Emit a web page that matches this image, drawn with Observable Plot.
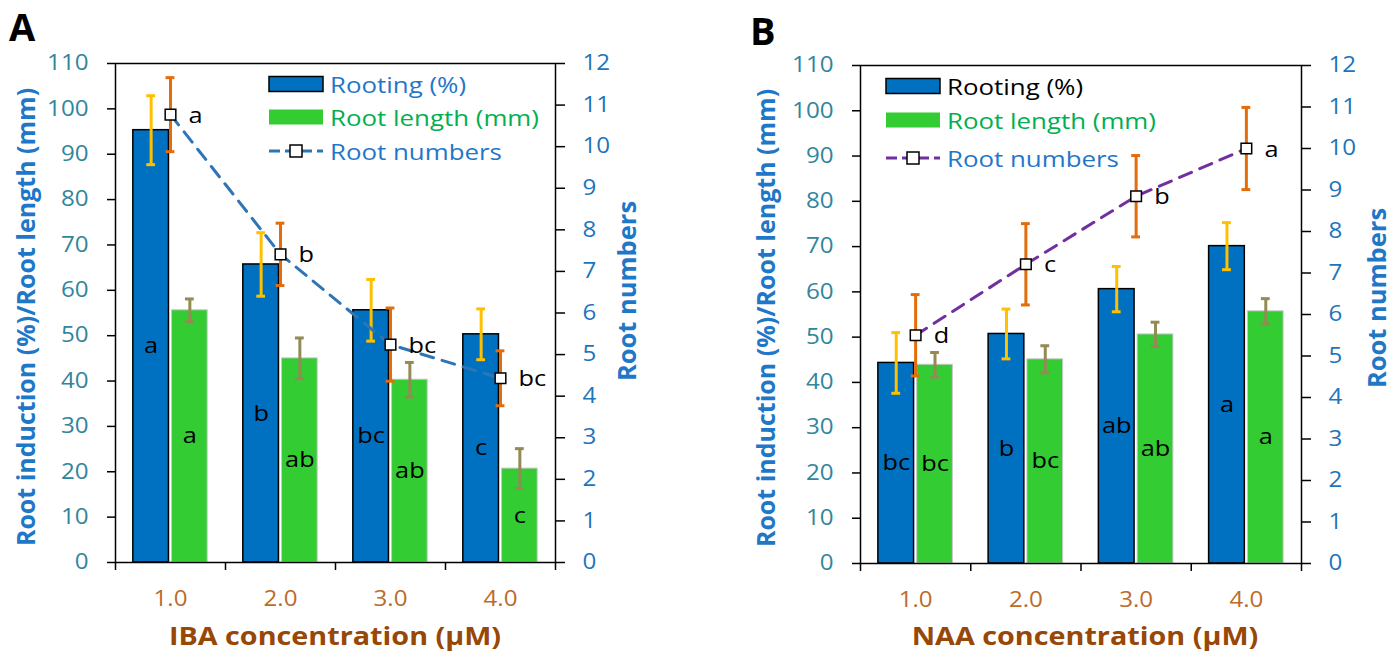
<!DOCTYPE html>
<html><head><meta charset="utf-8">
<script src="https://cdn.jsdelivr.net/npm/d3@7"></script>
<script src="https://cdn.jsdelivr.net/npm/@observablehq/plot@0.6"></script>
<style>
body{margin:0;background:#fff;font-family:"Open Sans",sans-serif;}
#wrap{position:relative;width:1400px;height:655px;overflow:hidden;background:#fff}
.panel{position:absolute;top:0;width:700px;height:655px}
.panel svg{position:absolute;left:0;top:0}
</style></head><body><div id="wrap"></div>
<script>
// ---- data ----
const concentrations = [1, 2, 3, 4];
const leftTicks = [0, 10, 20, 30, 40, 50, 60, 70, 80, 90, 100, 110];
const rightTicks = [0, 1, 2, 3, 4, 5, 6, 7, 8, 9, 10, 11, 12];

const ibaRooting = [95.3, 65.7, 55.6, 50.3];
const ibaRootingErr = [7.6, 7.0, 6.8, 5.6];
const ibaLength = [55.6, 45.0, 40.3, 20.7];
const ibaLengthErr = [2.5, 4.5, 3.8, 4.4];
const ibaNumbers = [10.77, 7.41, 5.24, 4.43];
const ibaNumbersErr = [0.89, 0.75, 0.88, 0.66];
const ibaRootingLetters = ["a", "b", "bc", "c"];
const ibaLengthLetters = ["a", "ab", "ab", "c"];
const ibaNumbersLetters = ["a", "b", "bc", "bc"];

const naaRooting = [44.3, 50.7, 60.6, 70.1];
const naaRootingErr = [6.7, 5.5, 5.0, 5.2];
const naaLength = [43.9, 45.1, 50.6, 55.7];
const naaLengthErr = [2.7, 3.0, 2.7, 2.8];
const naaNumbers = [5.50, 7.21, 8.85, 10.0];
const naaNumbersErr = [0.98, 0.98, 0.98, 0.99];
const naaRootingLetters = ["bc", "b", "ab", "a"];
const naaLengthLetters = ["bc", "bc", "ab", "a"];
const naaNumbersLetters = ["d", "c", "b", "a"];

const BLUE = "#0070C0", GREEN = "#33CC33", YELLOW = "#FFC000", ORANGE = "#E46C0A", KHAKI = "#948A54";
const K = 110 / 12; // right axis (0-12) onto left axis (0-110)
const SX = 1.15;     // horizontal stretch of the lettering

function stretchTexts(svg) {
  svg.querySelectorAll("text").forEach(t => {
    const tr = t.getAttribute("transform");
    if (tr) t.setAttribute("transform", tr + ` scale(${SX},1)`);
    else {
      const x = +t.getAttribute("x") || 0, y = +t.getAttribute("y") || 0;
      t.setAttribute("x", 0); t.setAttribute("y", 0);
      t.setAttribute("transform", `translate(${x},${y}) scale(${SX},1)`);
    }
  });
}

function makePanel(cfg) {
  const rows = concentrations.map((c, i) => ({
    c, r: cfg.rooting[i], re: cfg.rootingErr[i], l: cfg.length[i], le: cfg.lengthErr[i],
    n: cfg.numbers[i] * K, ne: cfg.numbersErr[i] * K,
    lr: cfg.lr[i], ll: cfg.ll[i], ln: cfg.ln[i]
  }));
  const bo = 0.176, half = 0.162, cap = 0.04;
  const xb = d => d.c - bo, xg = d => d.c + bo;
  const errBar = (xf, yf, ef, color) => [
    Plot.ruleX(rows, {x: xf, y1: d => yf(d) - ef(d), y2: d => yf(d) + ef(d), stroke: color, strokeWidth: 3}),
    Plot.ruleY(rows, {y: d => yf(d) + ef(d), x1: d => xf(d) - cap, x2: d => xf(d) + cap, stroke: color, strokeWidth: 3}),
    Plot.ruleY(rows, {y: d => yf(d) - ef(d), x1: d => xf(d) - cap, x2: d => xf(d) + cap, stroke: color, strokeWidth: 3})
  ];
  const svg = Plot.plot({
    width: 700, height: 655,
    marginLeft: cfg.m[0], marginRight: cfg.m[1], marginTop: cfg.m[2], marginBottom: cfg.m[3],
    style: {fontFamily: "Open Sans", background: "transparent", overflow: "visible"},
    x: {domain: [0.5, 4.5], axis: null},
    y: {domain: [0, 110], axis: null},
    marks: [
      Plot.rect(rows, {x1: d => xb(d) - half, x2: d => xb(d) + half, y1: 0, y2: "r", fill: BLUE, stroke: "black", strokeWidth: 1.5}),
      Plot.rect(rows, {x1: d => xg(d) - half, x2: d => xg(d) + half, y1: 0, y2: "l", fill: GREEN, stroke: "#c8c8c8", strokeWidth: 1}),
      Plot.text(rows, {x: xb, y: d => d.r / 2, text: "lr", fontSize: 22, fill: "black"}),
      Plot.text(rows, {x: xg, y: d => d.l / 2, text: "ll", fontSize: 22, fill: "black"}),
      ...errBar(xb, d => d.r, d => d.re, YELLOW),
      ...errBar(xg, d => d.l, d => d.le, KHAKI),
      Plot.line(rows, {x: "c", y: "n", stroke: cfg.lineColor, strokeWidth: 3, strokeDasharray: "13,9"}),
      ...errBar(d => d.c, d => d.n, d => d.ne, ORANGE),
      Plot.dot(rows, {x: "c", y: "n", symbol: "square", r: 6, fill: "white", stroke: "black", strokeWidth: 1.5}),
      Plot.text(rows, {x: "c", y: "n", text: "ln", dx: 18, dy: 1, textAnchor: "start", fontSize: 22, fill: "black"}),
      Plot.frame({stroke: "black", strokeWidth: 1.5}),
      Plot.axisY(leftTicks, {anchor: "left", tickSize: 8, tickPadding: 19, fontSize: 21, stroke: "black", strokeWidth: 1.5, fill: "#31859C", label: null}),
      Plot.axisY(rightTicks.map(v => v * K), {anchor: "right", tickSize: 9, tickPadding: 18, fontSize: 21, stroke: "black", strokeWidth: 1.5, fill: "#1C75BC", tickFormat: d => String(Math.round(d / K)), label: null}),
      Plot.axisX([0.5, 1.5, 2.5, 3.5, 4.5], {tickSize: 8, stroke: "black", strokeWidth: 1.5, tickFormat: () => "", label: null}),
      Plot.axisX(concentrations, {tickSize: 0, tickPadding: 29, fontSize: 21, fill: "#BC6B2A", tickFormat: d => d.toFixed(1), label: null})
    ]
  });
  stretchTexts(svg);
  return svg;
}

function overlay(el, o) {
  const svg = d3.select(el).append("svg").attr("width", 700).attr("height", 655)
    .style("font-family", "Open Sans").style("pointer-events", "none");
  svg.append("text").attr("x", o.letter[0]).attr("y", o.letter[1]).attr("font-size", 38).attr("font-weight", 700).text(o.letterText);
  svg.append("text").attr("transform", `translate(${o.ylab[0]},${o.ylab[1]}) rotate(-90)`).attr("text-anchor", "middle")
    .attr("dominant-baseline", "central").attr("font-size", 25).attr("font-weight", 700).attr("fill", "#1F77C8")
    .text("Root induction (%)/Root length (mm)");
  svg.append("text").attr("transform", `translate(${o.rlab[0]},${o.rlab[1]}) rotate(-90)`).attr("text-anchor", "middle")
    .attr("dominant-baseline", "central").attr("font-size", 25.5).attr("font-weight", 700).attr("fill", "#1F77C8")
    .text("Root numbers");
  svg.append("text").attr("transform", `translate(${o.xlab[0]},${o.xlab[1]}) scale(${SX},1)`).attr("text-anchor", "middle")
    .attr("font-size", 25).attr("font-weight", 700).attr("fill", "#974706").text(o.xlabText);
  const [lx, y1, y2, y3] = o.legend;
  svg.append("rect").attr("x", lx).attr("y", y1 - 7.5).attr("width", 54).attr("height", 15).attr("fill", BLUE).attr("stroke", "black").attr("stroke-width", 1.5);
  svg.append("rect").attr("x", lx).attr("y", y2 - 7.5).attr("width", 54).attr("height", 15).attr("fill", GREEN);
  svg.append("line").attr("x1", lx).attr("x2", lx + 54).attr("y1", y3).attr("y2", y3).attr("stroke", o.lineColor).attr("stroke-width", 3).attr("stroke-dasharray", "11,5");
  svg.append("rect").attr("x", lx + 27 - 6).attr("y", y3 - 6).attr("width", 12).attr("height", 12).attr("fill", "white").attr("stroke", "black").attr("stroke-width", 1.5);
  const tx = lx + 61;
  const t = (y, s, c) => svg.append("text").attr("transform", `translate(${tx},${y}) scale(${SX},1)`)
    .attr("dominant-baseline", "central").attr("font-size", 22.5).attr("fill", c).text(s);
  t(y1, "Rooting (%)", o.rootingColor);
  t(y2, "Root length (mm)", "#00B050");
  t(y3, "Root numbers", "#1F77C8");
}

const wrap = document.getElementById("wrap");
const pA = document.createElement("div"); pA.className = "panel"; pA.style.left = "0px"; wrap.appendChild(pA);
const pB = document.createElement("div"); pB.className = "panel"; pB.style.left = "700px"; wrap.appendChild(pB);

pA.appendChild(makePanel({rooting: ibaRooting, rootingErr: ibaRootingErr, length: ibaLength, lengthErr: ibaLengthErr,
  numbers: ibaNumbers, numbersErr: ibaNumbersErr, lr: ibaRootingLetters, ll: ibaLengthLetters, ln: ibaNumbersLetters,
  lineColor: "#2E75B6", m: [115, 145, 63, 93]}));
overlay(pA, {letter: [9, 41], letterText: "A", ylab: [25, 317], rlab: [626, 291], xlab: [335, 645], xlabText: "IBA concentration (µM)",
  legend: [269, 84, 117, 151], lineColor: "#2E75B6", rootingColor: "#1F77C8"});

pB.appendChild(makePanel({rooting: naaRooting, rootingErr: naaRootingErr, length: naaLength, lengthErr: naaLengthErr,
  numbers: naaNumbers, numbersErr: naaNumbersErr, lr: naaRootingLetters, ll: naaLengthLetters, ln: naaNumbersLetters,
  lineColor: "#7030A0", m: [160, 99, 65, 92]}));
overlay(pB, {letter: [50, 45], letterText: "B", ylab: [65, 318], rlab: [676, 298], xlab: [385, 645], xlabText: "NAA concentration (µM)",
  legend: [186, 86, 120, 158], lineColor: "#7030A0", rootingColor: "black"});
</script>
</body></html>
